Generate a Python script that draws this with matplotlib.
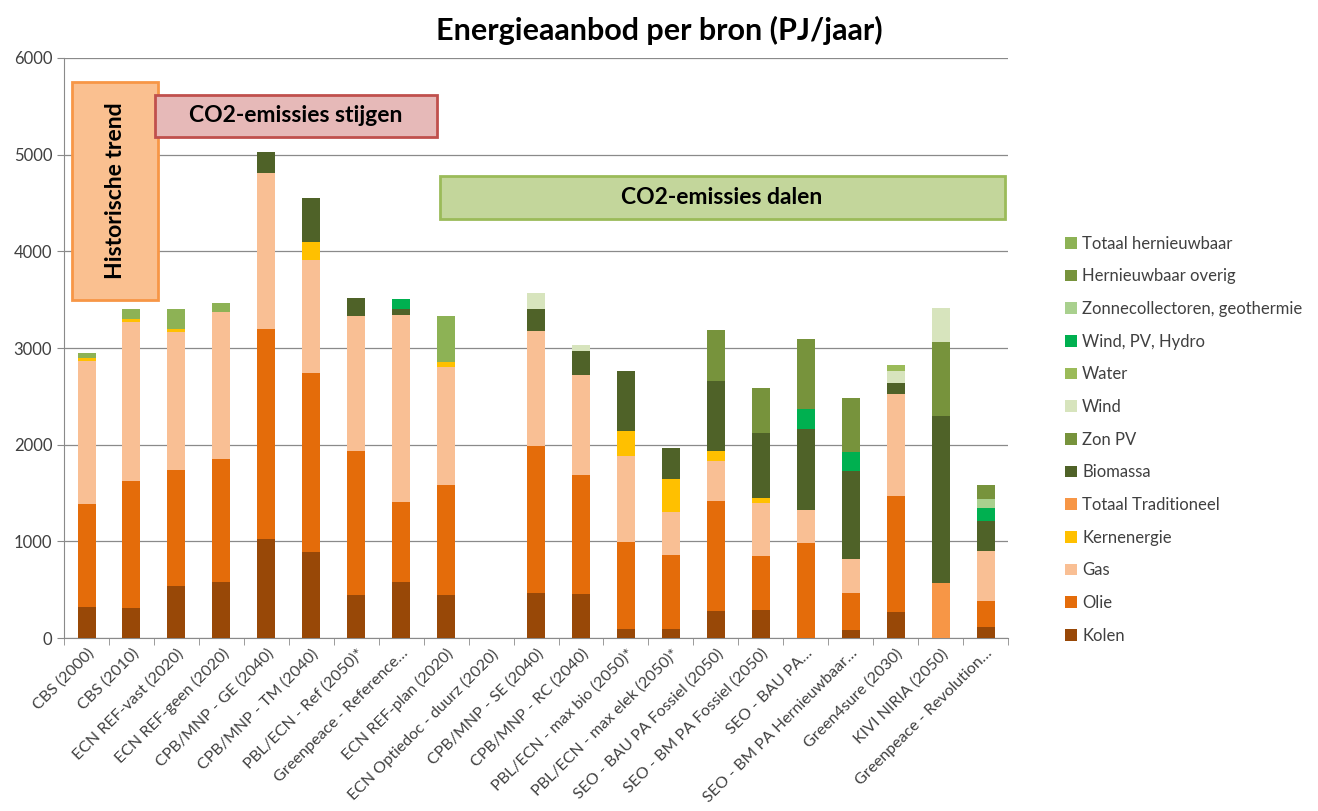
import matplotlib.pyplot as plt
import matplotlib.patches as mpatches
import numpy as np

plt.rcParams['font.family'] = ['Lato', 'DejaVu Sans']

categories = ['CBS (2000)', 'CBS (2010)', 'ECN REF-vast (2020)', 'ECN REF-geen (2020)',
              'CPB/MNP - GE (2040)', 'CPB/MNP - TM (2040)', 'PBL/ECN - Ref (2050)*',
              'Greenpeace - Reference…', 'ECN REF-plan (2020)', 'ECN Optiedoc - duurz (2020)',
              'CPB/MNP - SE (2040)', 'CPB/MNP - RC (2040)', 'PBL/ECN - max bio (2050)*',
              'PBL/ECN - max elek (2050)*', 'SEO - BAU PA Fossiel (2050)', 'SEO - BM PA Fossiel (2050)',
              'SEO - BAU PA…', 'SEO - BM PA Hernieuwbaar…', 'Green4sure (2030)', 'KIVI NIRIA (2050)',
              'Greenpeace - Revolution…']

# PJ per jaar, stacked bottom -> top
kolen = [320, 310, 535, 580, 1025, 890, 445, 578, 446, 0, 464, 453, 93, 93, 280, 291, 0, 83, 266, 0, 118]
olie = [1070, 1310, 1200, 1270, 2170, 1850, 1490, 827, 1132, 0, 1523, 1233, 897, 762, 1136, 560, 983, 387, 1202, 0, 266]
gas = [1480, 1650, 1430, 1520, 1620, 1170, 1395, 1935, 1222, 0, 1187, 1038, 893, 447, 415, 547, 346, 347, 1052, 0, 512]
kernenergie = [30, 30, 35, 0, 0, 190, 0, 0, 52, 0, 0, 0, 260, 346, 104, 52, 0, 0, 0, 0, 0]
totaal_trad = [0, 0, 0, 0, 0, 0, 0, 0, 0, 0, 0, 0, 0, 0, 0, 0, 0, 0, 0, 568, 0]
biomassa = [0, 0, 0, 0, 215, 450, 185, 65, 0, 0, 232, 242, 622, 315, 719, 668, 831, 910, 118, 1730, 312]
zon_pv = [0, 0, 0, 0, 0, 0, 0, 0, 0, 0, 0, 0, 0, 0, 0, 0, 0, 0, 0, 762, 0]
wind = [0, 0, 0, 0, 0, 0, 0, 0, 0, 0, 161, 68, 0, 0, 0, 0, 0, 0, 127, 356, 0]
water = [0, 0, 0, 0, 0, 0, 0, 0, 0, 0, 0, 0, 0, 0, 0, 0, 0, 0, 60, 0, 0]
wind_pv_hydro = [0, 0, 0, 0, 0, 0, 0, 105, 0, 0, 0, 0, 0, 0, 0, 0, 208, 197, 0, 0, 138]
zonnecoll = [0, 0, 0, 0, 0, 0, 0, 0, 0, 0, 0, 0, 0, 0, 0, 0, 0, 0, 0, 0, 94]
hern_overig = [0, 0, 0, 0, 0, 0, 0, 0, 0, 0, 0, 0, 0, 0, 537, 464, 726, 554, 0, 0, 138]
totaal_hern = [50, 105, 205, 100, 0, 0, 0, 0, 478, 0, 0, 0, 0, 0, 0, 0, 0, 0, 0, 0, 0]

series = [
    ('Kolen', kolen, '#984807'),
    ('Olie', olie, '#E46C0A'),
    ('Gas', gas, '#F9BF94'),
    ('Kernenergie', kernenergie, '#FFC000'),
    ('Totaal Traditioneel', totaal_trad, '#F79646'),
    ('Biomassa', biomassa, '#4F6228'),
    ('Zon PV', zon_pv, '#77933C'),
    ('Wind', wind, '#D7E4BD'),
    ('Water', water, '#9BBB59'),
    ('Wind, PV, Hydro', wind_pv_hydro, '#00B050'),
    ('Zonnecollectoren, geothermie', zonnecoll, '#A9D08E'),
    ('Hernieuwbaar overig', hern_overig, '#77933C'),
    ('Totaal hernieuwbaar', totaal_hern, '#8DB255'),
]

fig = plt.figure(figsize=(13.18, 8.11), dpi=100)
ax = fig.add_axes([0.0486, 0.2133, 0.7162, 0.7152])

x = np.arange(len(categories))
bottom = np.zeros(len(categories))
handles = []
for name, vals, col in series:
    vals = np.asarray(vals, dtype=float)
    b = ax.bar(x, vals, 0.4, bottom=bottom, color=col, label=name, zorder=3)
    handles.append(b)
    bottom += vals

ax.set_xlim(-0.5, len(categories) - 0.5)
ax.set_ylim(0, 6000)
ax.set_yticks(np.arange(0, 6001, 1000))
ax.yaxis.grid(True, color='#8a8a8a', lw=0.9, zorder=0)
for s in ['top', 'right']:
    ax.spines[s].set_visible(False)
ax.spines['left'].set_color('#8a8a8a')
ax.spines['bottom'].set_color('#8a8a8a')
ax.tick_params(axis='y', colors='#8a8a8a', labelcolor='#404040', labelsize=12, length=5)
ax.set_xticks(x)
ax.set_xticklabels(categories, rotation=45, ha='right', rotation_mode='anchor',
                   fontsize=11.5, color='#404040')
ax.tick_params(axis='x', which='major', length=0, pad=6)
ax.set_xticks(np.arange(-0.5, len(categories), 1), minor=True)
ax.tick_params(axis='x', which='minor', length=5, color='#8a8a8a')

# annotation boxes
ax.add_patch(mpatches.Rectangle((0.0085, 0.583), 0.0911, 0.376, transform=ax.transAxes,
                                facecolor='#FAC090', edgecolor='#F79646', lw=2, zorder=4))
ax.text(0.054, 0.771, 'Historische trend', transform=ax.transAxes, rotation=90,
        ha='center', va='center', fontsize=16.5, fontweight='bold', zorder=5)
ax.add_patch(mpatches.Rectangle((0.0964, 0.864), 0.2987, 0.072, transform=ax.transAxes,
                                facecolor='#E6B9B8', edgecolor='#C0504D', lw=2, zorder=4))
ax.text(0.2457, 0.900, 'CO2-emissies stijgen', transform=ax.transAxes,
        ha='center', va='center', fontsize=16.5, fontweight='bold', zorder=5)
ax.add_patch(mpatches.Rectangle((0.398, 0.7224), 0.5985, 0.0742, transform=ax.transAxes,
                                facecolor='#C3D69B', edgecolor='#9BBB59', lw=2, zorder=4))
ax.text(0.697, 0.759, 'CO2-emissies dalen', transform=ax.transAxes,
        ha='center', va='center', fontsize=16.5, fontweight='bold', zorder=5)

fig.text(0.5, 0.963, 'Energieaanbod per bron (PJ/jaar)', ha='center', va='center',
         fontsize=22, fontweight='bold')

fig.legend(handles[::-1], [s[0] for s in series][::-1], loc='upper left',
           bbox_to_anchor=(0.797, 0.728), frameon=False, fontsize=12,
           labelspacing=1.0, handlelength=0.7, handleheight=0.7, handletextpad=0.3,
           labelcolor='#404040')

fig.savefig('out.png', dpi=100)
